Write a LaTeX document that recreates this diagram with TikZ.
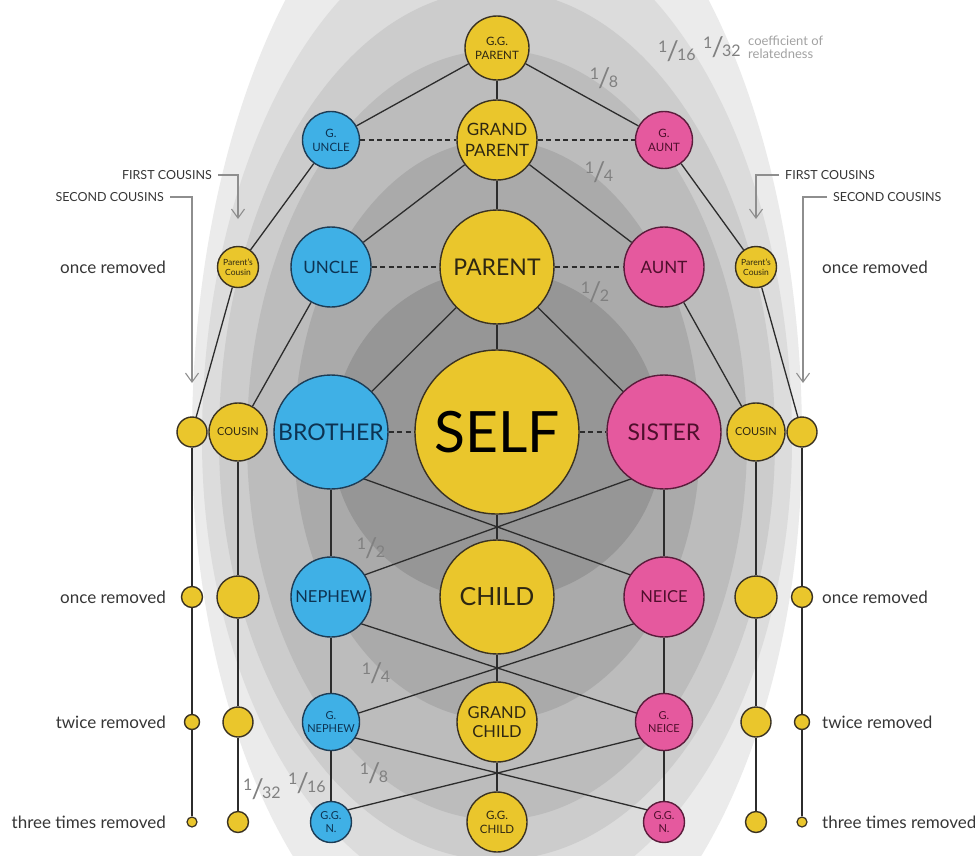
\documentclass[tikz,border=0pt]{standalone}
\usepackage{fontspec}
\setmainfont{Lato}
\usetikzlibrary{calc,arrows.meta}
\pgfdeclarelayer{bg}
\pgfdeclarelayer{lines}
\pgfsetlayers{bg,lines,main}
\definecolor{yel}{HTML}{EAC62C}
\definecolor{blu}{HTML}{3FB0E6}
\definecolor{pnk}{HTML}{E5599E}
\definecolor{yedge}{HTML}{3A3222}
\definecolor{bedge}{HTML}{1D3C55}
\definecolor{pedge}{HTML}{5A1C3B}
\definecolor{ytext}{HTML}{2E2712}
\definecolor{btext}{HTML}{0D3352}
\definecolor{ptext}{HTML}{4F0F2C}
\definecolor{linec}{HTML}{2C2C2C}
\definecolor{fracc}{HTML}{808080}
\definecolor{coefc}{HTML}{A2A2A2}
\definecolor{notec}{HTML}{363636}
\definecolor{pointc}{HTML}{8E8E8E}
\definecolor{bandA}{HTML}{EBEBEB}
\definecolor{bandB}{HTML}{DCDCDC}
\definecolor{bandC}{HTML}{CCCCCC}
\definecolor{bandD}{HTML}{BCBCBC}
\definecolor{bandE}{HTML}{AAAAAA}
\definecolor{bandF}{HTML}{969696}
\newcommand\fsz[1]{\fontsize{#1}{#1}\selectfont}
\newcommand\fsl[1]{\fontsize{#1}{1.2\dimexpr#1pt\relax}\selectfont}
\newcommand\fr[2]{{\fsz{16}\raisebox{8pt}{#1}}\kern-1pt{\fsz{27}/}\kern-1.5pt{\fsz{16}#2}}
\newcommand\band[4]{\fill[#1] (497-#2,440) arc[start angle=180,end angle=0,x radius=#2pt,y radius=#3pt] arc[start angle=360,end angle=180,x radius=#2pt,y radius=#4pt] -- cycle;}
\tikzset{
  person/.style={circle, line width=1.4pt, inner sep=0pt, align=center},
  ynode/.style={person, fill=yel, draw=yedge, text=ytext},
  bnode/.style={person, fill=blu, draw=bedge, text=btext},
  pnode/.style={person, fill=pnk, draw=pedge, text=ptext},
  rel/.style={draw=linec, line width=1.3pt},
  sib/.style={draw=linec, line width=1.3pt, dash pattern=on 5pt off 3.5pt},
  frac/.style={text=fracc, inner sep=0pt},
  remlabel/.style={text=notec, font=\fsz{17}, inner sep=0pt},
  caplabel/.style={text=notec, font=\fsz{12.5}, inner sep=0pt},
  pointer/.style={draw=pointc, line width=1.1pt, -{Straight Barb[length=9pt,width=13pt,line width=1.1pt]}}
}
\begin{document}
\begin{tikzpicture}[x=1pt,y=-1pt]
\useasboundingbox (0,0) rectangle (975,855);
\begin{pgfonlayer}{bg}
\clip (0,0) rectangle (975,855);
\fill[white] (0,0) rectangle (975,855);
\band{bandA}{305}{611}{560}
\band{bandB}{295}{520}{470}
\band{bandC}{278}{450}{420}
\band{bandD}{250}{390}{380}
\band{bandE}{203}{300}{280}
\band{bandF}{165}{170}{160}
\end{pgfonlayer}

% centre column
\node[ynode, minimum size=64pt, font=\fsl{11.5}] (ggp) at (497,48) {G.G.\\PARENT};
\node[ynode, minimum size=80pt, font=\fsl{17}] (gp) at (497,140) {GRAND\\PARENT};
\node[ynode, minimum size=114pt, font=\fsz{23}] (par) at (497,267) {PARENT};
\node[ynode, minimum size=164pt, font=\fsz{57}, text=black] (self) at (497,432) {SELF};
\node[ynode, minimum size=114pt, font=\fsz{25}] (chi) at (497,597) {CHILD};
\node[ynode, minimum size=80pt, font=\fsl{16.5}] (gch) at (497,722) {GRAND\\CHILD};
\node[ynode, minimum size=60pt, font=\fsl{11.5}] (ggc) at (497,822) {G.G.\\CHILD};
% left (blue)
\node[bnode, minimum size=57pt, font=\fsl{11.5}] (gun) at (331,140) {G.\\UNCLE};
\node[bnode, minimum size=80pt, font=\fsz{17}] (unc) at (331,267) {UNCLE};
\node[bnode, minimum size=114pt, font=\fsz{23}] (bro) at (331,432) {BROTHER};
\node[bnode, minimum size=80pt, font=\fsz{16.5}] (nep) at (331,597) {NEPHEW};
\node[bnode, minimum size=57pt, font=\fsl{11}] (gne) at (331,722) {G.\\NEPHEW};
\node[bnode, minimum size=41pt, font=\fsl{11}] (ggnl) at (331,822) {G.G.\\N.};
% right (pink)
\node[pnode, minimum size=57pt, font=\fsl{11.5}] (gau) at (664,140) {G.\\AUNT};
\node[pnode, minimum size=80pt, font=\fsz{17}] (aun) at (664,267) {AUNT};
\node[pnode, minimum size=114pt, font=\fsz{23}] (sis) at (664,432) {SISTER};
\node[pnode, minimum size=80pt, font=\fsz{16.5}] (nei) at (664,597) {NEICE};
\node[pnode, minimum size=57pt, font=\fsl{11}] (gni) at (664,722) {G.\\NEICE};
\node[pnode, minimum size=41pt, font=\fsl{11}] (ggnr) at (664,822) {G.G.\\N.};
% cousins left
\node[ynode, minimum size=41pt, font=\fsl{8.5}] (pcl) at (238,267) {Parent's\\Cousin};
\node[ynode, minimum size=58pt, font=\fsz{11}] (col) at (238,432) {COUSIN};
\node[ynode, minimum size=42pt] (c1l) at (238,597) {};
\node[ynode, minimum size=30pt] (c2l) at (238,722) {};
\node[ynode, minimum size=21pt] (c3l) at (238,822) {};
\node[ynode, minimum size=30pt] (s0l) at (192,432) {};
\node[ynode, minimum size=21pt] (s1l) at (192,597) {};
\node[ynode, minimum size=15pt] (s2l) at (192,722) {};
\node[ynode, minimum size=10pt, line width=1.2pt] (s3l) at (192,822) {};
% cousins right
\node[ynode, minimum size=41pt, font=\fsl{8.5}] (pcr) at (756,267) {Parent's\\Cousin};
\node[ynode, minimum size=58pt, font=\fsz{11}] (cor) at (756,432) {COUSIN};
\node[ynode, minimum size=42pt] (c1r) at (756,597) {};
\node[ynode, minimum size=30pt] (c2r) at (756,722) {};
\node[ynode, minimum size=21pt] (c3r) at (756,822) {};
\node[ynode, minimum size=30pt] (s0r) at (802,432) {};
\node[ynode, minimum size=21pt] (s1r) at (802,597) {};
\node[ynode, minimum size=15pt] (s2r) at (802,722) {};
\node[ynode, minimum size=10pt, line width=1.2pt] (s3r) at (802,822) {};

\begin{pgfonlayer}{lines}
\draw[rel] (ggp) -- (gun);
\draw[rel] (ggp) -- (gp);
\draw[rel] (ggp) -- (gau);
\draw[rel] (gp) -- (unc);
\draw[rel] (gp) -- (par);
\draw[rel] (gp) -- (aun);
\draw[rel] (par) -- (bro);
\draw[rel] (par) -- (self);
\draw[rel] (par) -- (sis);
\draw[rel] (self) -- (chi);
\draw[rel] (chi) -- (gch);
\draw[rel] (gch) -- (ggc);
\draw[rel] (bro) -- (nep);
\draw[rel] (nep) -- (gne);
\draw[rel] (gne) -- (ggnl);
\draw[rel] (sis) -- (nei);
\draw[rel] (nei) -- (gni);
\draw[rel] (gni) -- (ggnr);
\draw[rel] ($(bro.center)+(0,35)$) -- ($(nei.center)+(0,-10)$);
\draw[rel] ($(sis.center)+(0,35)$) -- ($(nep.center)+(0,-10)$);
\draw[rel] ($(nep.center)+(0,17)$) -- (gni.center);
\draw[rel] ($(nei.center)+(0,17)$) -- (gne.center);
\draw[rel] ($(gne.center)+(0,10)$) -- ($(ggnr.center)+(0,-8)$);
\draw[rel] ($(gni.center)+(0,10)$) -- ($(ggnl.center)+(0,-8)$);
\draw[sib] (gun) -- (gp);
\draw[sib] (gp) -- (gau);
\draw[sib] (unc) -- (par);
\draw[sib] (par) -- (aun);
\draw[sib] (bro) -- (self);
\draw[sib] (self) -- (sis);
\draw[rel] (gun) -- (pcl);
\draw[rel] (unc) -- (col);
\draw[rel] (pcl) -- (s0l);
\draw[rel] (col) -- (c1l);
\draw[rel] (c1l) -- (c2l);
\draw[rel] (c2l) -- (c3l);
\draw[rel] (s0l) -- (s1l);
\draw[rel] (s1l) -- (s2l);
\draw[rel] (s2l) -- (s3l);
\draw[rel] (gau) -- (pcr);
\draw[rel] (aun) -- (cor);
\draw[rel] (pcr) -- (s0r);
\draw[rel] (cor) -- (c1r);
\draw[rel] (c1r) -- (c2r);
\draw[rel] (c2r) -- (c3r);
\draw[rel] (s0r) -- (s1r);
\draw[rel] (s1r) -- (s2r);
\draw[rel] (s2r) -- (s3r);
\end{pgfonlayer}

% fractions
\node[frac] (f32t) at (722,47) {\fr{1}{32}};
\node[frac] (f16t) at (677,51) {\fr{1}{16}};
\node[frac] (f8t) at (604,78) {\fr{1}{8}};
\node[frac] (f4t) at (599,172) {\fr{1}{4}};
\node[frac] (f2t) at (595,292) {\fr{1}{2}};
\node[frac] (f2b) at (371,548) {\fr{1}{2}};
\node[frac] (f4b) at (376,673) {\fr{1}{4}};
\node[frac] (f8b) at (374,773) {\fr{1}{8}};
\node[frac] (f16b) at (307,783) {\fr{1}{16}};
\node[frac] (f32b) at (262,789) {\fr{1}{32}};
\node[anchor=west, align=left, text=coefc, font=\fsl{13}, inner sep=0pt] (coef) at (748,47) {coefficient of\\[-3pt]relatedness};

% removed labels
\node[remlabel, anchor=east] (rl1) at (166,267) {once removed};
\node[remlabel, anchor=east] (rl2) at (166,597) {once removed};
\node[remlabel, anchor=east] (rl3) at (166,722) {twice removed};
\node[remlabel, anchor=east] (rl4) at (166,822) {three times removed};
\node[remlabel, anchor=west] (rr1) at (822,267) {once removed};
\node[remlabel, anchor=west] (rr2) at (822,597) {once removed};
\node[remlabel, anchor=west] (rr3) at (822,722) {twice removed};
\node[remlabel, anchor=west] (rr4) at (822,822) {three times removed};

% cousin pointers
\node[caplabel, anchor=east] (fcl) at (212,175) {FIRST COUSINS};
\node[caplabel, anchor=east] (scl) at (164,197) {SECOND COUSINS};
\node[caplabel, anchor=west] (fcr) at (785,175) {FIRST COUSINS};
\node[caplabel, anchor=west] (scr) at (833,197) {SECOND COUSINS};
\coordinate (fclend) at (238,219);
\coordinate (sclend) at (192,383);
\coordinate (fcrend) at (756,219);
\coordinate (scrend) at (803,383);
\draw[pointer] ([xshift=6pt]fcl.east) -| (fclend);
\draw[pointer] ([xshift=6pt]scl.east) -| (sclend);
\draw[pointer] ([xshift=-6pt]fcr.west) -| (fcrend);
\draw[pointer] ([xshift=-6pt]scr.west) -| (scrend);
\end{tikzpicture}
\end{document}
